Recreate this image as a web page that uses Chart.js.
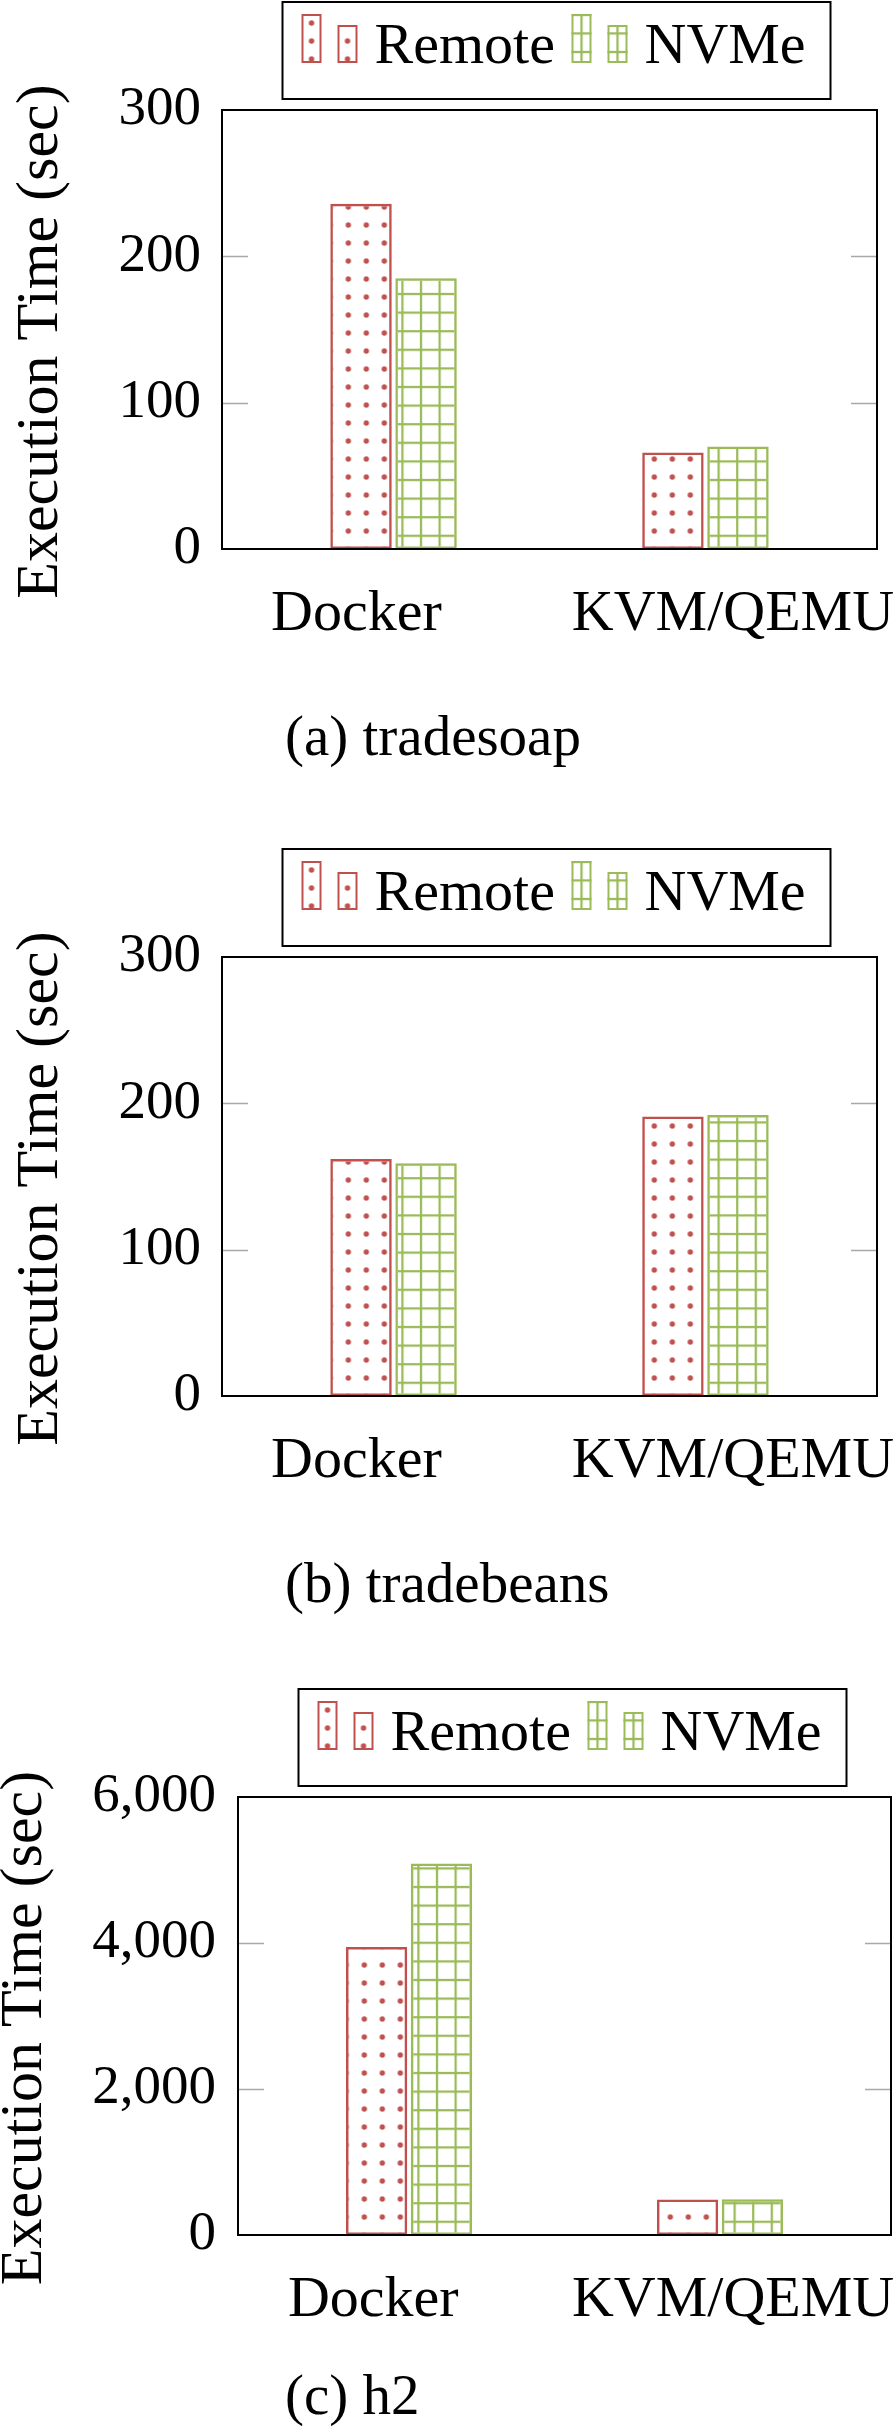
<!DOCTYPE html>
<html>
<head>
<meta charset="utf-8">
<script src="https://cdn.jsdelivr.net/npm/chart.js@4.4.1/dist/chart.umd.min.js"></script>
<style>
body { margin: 0; width: 894px; height: 2428px; background: #fff; position: relative; overflow: hidden; font-family: "Liberation Serif", serif; }
.panel { position: absolute; left: 0; }
.caption { position: absolute; font-size: 57px; line-height: 57px; white-space: nowrap; color: #000; }
</style>
</head>
<body>
<canvas id="chartA" class="panel" style="top:0px" width="894" height="650"></canvas>
<div class="caption" style="left:285px;top:707px">(a) tradesoap</div>
<canvas id="chartB" class="panel" style="top:845px" width="894" height="652"></canvas>
<div class="caption" style="left:285px;top:1554px">(b) tradebeans</div>
<canvas id="chartC" class="panel" style="top:1680px" width="894" height="656"></canvas>
<div class="caption" style="left:285px;top:2366px">(c) h2</div>

<script>
// values (seconds)
var categories = ["Docker", "KVM/QEMU"];
var seriesLabels = ["Remote", "NVMe"];
var yTitle = "Execution Time (sec)";

var tradesoapRemote = [236, 66];
var tradesoapNvme = [185, 70];
var tradebeansRemote = [162, 191];
var tradebeansNvme = [159, 192];
var h2Remote = [3945, 485];
var h2Nvme = [5090, 490];

var smallTicks = [0, 100, 200, 300];
var h2Ticks = [0, 2000, 4000, 6000];

var RED = "rgb(192,80,77)";
var GREEN = "rgb(155,187,89)";
var FONT = "'Liberation Serif', serif";

function makeDots(color)
{
    var c = document.createElement("canvas");
    c.width = 18; c.height = 18;
    var g = c.getContext("2d");
    g.fillStyle = color;
    g.beginPath();
    g.arc(9, 9, 2.7, 0, Math.PI * 2);
    g.fill();
    return g.createPattern(c, "repeat");
}

function makeGrid(color)
{
    var c = document.createElement("canvas");
    c.width = 18; c.height = 18;
    var g = c.getContext("2d");
    g.fillStyle = color;
    g.fillRect(0, 0, 2.2, 18);
    g.fillRect(0, 0, 18, 2.2);
    return g.createPattern(c, "repeat");
}

var GRID_SCALE = 18.6 / 18;

function placeDots(pat, x, y)
{
    pat.setTransform(new DOMMatrix([1, 0, 0, 1, x - 9, y - 9]));
}

function placeGrid(pat, x, y)
{
    pat.setTransform(new DOMMatrix([GRID_SCALE, 0, 0, GRID_SCALE, x - 1.1 * GRID_SCALE, y - 1.1 * GRID_SCALE]));
}

function drawSwatch(ctx, ds, i, x, y, w, h)
{
    ctx.fillStyle = "#fff";
    ctx.fillRect(x, y, w, h);
    if (i == 0)
        placeDots(ds.backgroundColor, x + w / 2, y + h - 4);
    else
        placeGrid(ds.backgroundColor, x + w / 2, y + h - 11);
    ctx.fillStyle = ds.backgroundColor;
    ctx.fillRect(x, y, w, h);
    ctx.strokeStyle = ds.borderColor;
    ctx.lineWidth = 2;
    ctx.strokeRect(x + 1, y + 1, w - 2, h - 2);
}

var framePlugin = {
    id: "frame",
    beforeDatasetsDraw: function (chart) {
        var a = chart.chartArea;
        var ds = chart.data.datasets;
        placeDots(ds[0].backgroundColor, a.left + 0.3, a.bottom);
        placeGrid(ds[1].backgroundColor, a.left + 13, a.bottom - 13.2);
    },
    afterDatasetsDraw: function (chart) {
        var a = chart.chartArea;
        var ctx = chart.ctx;
        var y = chart.scales.y;
        ctx.save();
        ctx.strokeStyle = "#a8a8a8";
        ctx.lineWidth = 1.5;
        y.ticks.forEach(function (t) {
            if (t.value <= y.min || t.value >= y.max) return;
            var py = Math.round(y.getPixelForValue(t.value)) + 0.5;
            ctx.beginPath();
            ctx.moveTo(a.left, py); ctx.lineTo(a.left + 26, py);
            ctx.moveTo(a.right - 26, py); ctx.lineTo(a.right, py);
            ctx.stroke();
        });
        ctx.strokeStyle = "#000";
        ctx.lineWidth = 2;
        ctx.strokeRect(a.left, a.top, a.right - a.left, a.bottom - a.top);
        ctx.restore();
    },
    afterDraw: function (chart) {
        var a = chart.chartArea;
        var ctx = chart.ctx;
        var opts = chart.options.plugins.frame;

        // y axis title, a little below the middle of the axis
        ctx.save();
        ctx.translate(opts.titleBaseline, (a.top + a.bottom) / 2 + 12);
        ctx.rotate(-Math.PI / 2);
        ctx.fillStyle = "#000";
        ctx.font = "60px " + FONT;
        ctx.textAlign = "center";
        ctx.textBaseline = "alphabetic";
        ctx.fillText(yTitle, 0, 0);
        ctx.restore();

        // legend box above the plot
        var bx = a.left + 60.5, by = a.top - 108, bw = 548, bh = 97;
        var slots = [19, 289];
        ctx.save();
        ctx.fillStyle = "#fff";
        ctx.fillRect(bx, by, bw, bh);
        ctx.strokeStyle = "#000";
        ctx.lineWidth = 2;
        ctx.strokeRect(bx, by, bw, bh);
        chart.data.datasets.forEach(function (ds, i) {
            var x0 = bx + slots[i];
            drawSwatch(ctx, ds, i, x0, by + 12, 20, 49);
            drawSwatch(ctx, ds, i, x0 + 36, by + 23, 20, 38);
            ctx.fillStyle = "#000";
            ctx.font = "58px " + FONT;
            ctx.textAlign = "left";
            ctx.textBaseline = "alphabetic";
            ctx.fillText(ds.label, x0 + 73, by + 61);
        });
        ctx.restore();
    }
};

function makeChart(id, canvasTop, canvasHeight, plotLeft, plotRight, plotTop, plotBottom, remote, nvme, ticks, titleBaseline, tickPad, labelShift)
{
    var points = function (vals) {
        return categories.map(function (c, i) { return {x: i, y: vals[i]}; });
    };
    return new Chart(document.getElementById(id), {
        type: "bar",
        data: {
            datasets: [
                {
                    label: seriesLabels[0],
                    data: points(remote),
                    backgroundColor: makeDots(RED),
                    borderColor: RED,
                    borderWidth: 2.5,
                    borderSkipped: false
                },
                {
                    label: seriesLabels[1],
                    data: points(nvme),
                    backgroundColor: makeGrid(GREEN),
                    borderColor: GREEN,
                    borderWidth: 2.5,
                    borderSkipped: false
                }
            ]
        },
        options: {
            responsive: false,
            animation: false,
            devicePixelRatio: 1,
            categoryPercentage: 0.417,
            barPercentage: 0.945,
            layout: {
                padding: {top: plotTop - canvasTop, right: 894 - plotRight, left: 0, bottom: 0}
            },
            plugins: {
                legend: {display: false},
                tooltip: {enabled: false},
                frame: {titleBaseline: titleBaseline}
            },
            scales: {
                x: {
                    type: "linear",
                    min: -0.55,
                    max: 1.55,
                    offset: false,
                    grid: {display: false, drawTicks: false, offset: false},
                    border: {display: false},
                    afterBuildTicks: function (scale) {
                        scale.ticks = categories.map(function (c, i) { return {value: i + labelShift[i]}; });
                    },
                    afterFit: function (scale) {
                        scale.height = canvasHeight - (plotBottom - canvasTop);
                        // the long right label may run past the frame, keep the axis full width
                        scale.paddingLeft = 0;
                        scale.paddingRight = 0;
                    },
                    ticks: {
                        autoSkip: false,
                        maxRotation: 0,
                        padding: 31,
                        color: "#000",
                        font: {family: FONT, size: 58},
                        callback: function (v, i) { return categories[i]; }
                    }
                },
                y: {
                    min: ticks[0],
                    max: ticks[ticks.length - 1],
                    grid: {display: false, drawTicks: false},
                    border: {display: false},
                    afterBuildTicks: function (scale) {
                        scale.ticks = ticks.map(function (v) { return {value: v}; });
                    },
                    afterFit: function (scale) {
                        scale.width = plotLeft;
                    },
                    ticks: {
                        padding: tickPad,
                        color: "#000",
                        font: {family: FONT, size: 55},
                        callback: function (v) { return v.toLocaleString("en-US"); }
                    }
                }
            }
        },
        plugins: [framePlugin]
    });
}

makeChart("chartA", 0, 650, 222, 877, 110, 549, tradesoapRemote, tradesoapNvme, smallTicks, 57, 21, [-0.119, 0.088]);
makeChart("chartB", 845, 652, 222, 877, 957, 1396, tradebeansRemote, tradebeansNvme, smallTicks, 57, 21, [-0.119, 0.088]);
makeChart("chartC", 1680, 656, 238, 891, 1797, 2235, h2Remote, h2Nvme, h2Ticks, 41, 22, [-0.115, 0.042]);
</script>
</body>
</html>
